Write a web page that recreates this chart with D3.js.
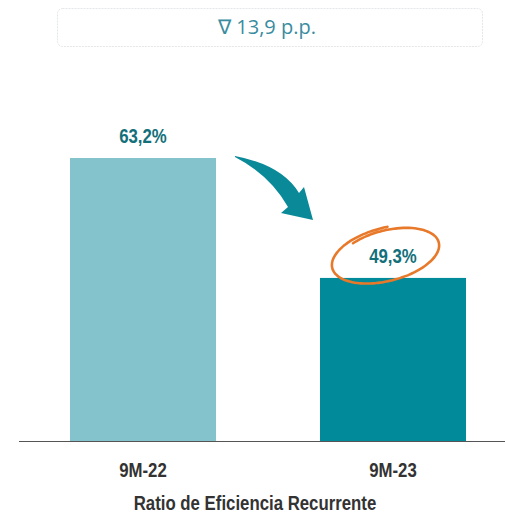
<!DOCTYPE html>
<html>
<head>
<meta charset="utf-8">
<script src="https://cdn.jsdelivr.net/npm/d3@7"></script>
<style>
  body { margin: 0; background: #fff; }
  svg { display: block; }
</style>
</head>
<body>
<div id="chart"></div>
<script>
const categories = ['9M-22', '9M-23'];
const values = [63.2, 49.3];
const valueLabels = ['63,2%', '49,3%'];
const barColors = ['#84c3cb', '#008a9a'];
const deltaLabel = '\u2207 13,9 p.p.';
const axisTitle = 'Ratio de Eficiencia Recurrente';

const W = 505, H = 513;
const narrow = '"Liberation Sans", Arial, sans-serif';
const squeeze = 0.8; // fake the condensed face

const svg = d3.select('#chart').append('svg')
    .attr('width', W)
    .attr('height', H);

const x = d3.scaleBand()
    .domain(categories)
    .range([19, 517])
    .paddingInner(0.416)
    .paddingOuter(0.204);

// baseline is not zero in the original
const y = d3.scaleLinear()
    .domain([30.4, 63.2])
    .range([441, 158]);

function narrowText(sel, tx, ty) {
    return sel.append('text')
        .attr('transform', `translate(${tx},${ty}) scale(${squeeze},1)`)
        .attr('text-anchor', 'middle')
        .style('font-family', narrow)
        .style('font-weight', 'bold')
        .style('font-size', '21px');
}

// top box with the change
svg.append('rect')
    .attr('x', 57.5)
    .attr('y', 8.5)
    .attr('width', 425)
    .attr('height', 38)
    .attr('rx', 5)
    .attr('fill', '#fff')
    .attr('stroke', '#e4e6e8')
    .attr('stroke-dasharray', '2,1');

svg.append('text')
    .attr('x', 267)
    .attr('y', 34)
    .attr('text-anchor', 'middle')
    .attr('fill', '#3a8ca0')
    .style('font-family', '"Open Sans", sans-serif')
    .style('font-size', '20px')
    .text(deltaLabel);

// bars
svg.selectAll('.bar')
    .data(values)
    .enter()
    .append('rect')
    .attr('class', 'bar')
    .attr('x', (d, i) => x(categories[i]))
    .attr('y', d => y(d))
    .attr('width', x.bandwidth())
    .attr('height', d => y.range()[0] - y(d))
    .attr('fill', (d, i) => barColors[i]);

// value labels
values.forEach((v, i) => {
    narrowText(svg, x(categories[i]) + x.bandwidth() / 2, y(v) - 15)
        .attr('fill', '#13707a')
        .text(valueLabels[i]);
});

// axis line + category labels
const xAxis = svg.append('g')
    .attr('transform', `translate(0,${y.range()[0]})`)
    .call(d3.axisBottom(x).tickSize(0));
xAxis.select('.domain').remove();
xAxis.append('line')
    .attr('x1', 19).attr('x2', W)
    .attr('y1', 0.5).attr('y2', 0.5)
    .attr('stroke', '#555');
// tick x is on the <g>, so the squeeze only narrows the glyphs
xAxis.selectAll('.tick text')
    .attr('y', null)
    .attr('dy', null)
    .attr('transform', `translate(0,36) scale(${squeeze},1)`)
    .attr('fill', '#333')
    .style('font-family', narrow)
    .style('font-weight', 'bold')
    .style('font-size', '21px');

narrowText(svg, 255, 510)
    .attr('fill', '#333')
    .text(axisTitle);

// curved arrow between bars
const ax = x(categories[0]) + x.bandwidth();
const ay = y(values[0]);
const arrow = d3.path();
arrow.moveTo(ax + 19, ay - 2);
arrow.quadraticCurveTo(ax + 66, ay + 7, ax + 83, ay + 35);
arrow.lineTo(ax + 88, ay + 29);
arrow.lineTo(ax + 97, ay + 62);
arrow.lineTo(ax + 65, ay + 55);
arrow.lineTo(ax + 72, ay + 49);
arrow.quadraticCurveTo(ax + 54, ay + 17, ax + 19, ay - 1);
arrow.closePath();
svg.append('path')
    .attr('d', arrow.toString())
    .attr('fill', '#0a8a98');

// hand-drawn ellipse around the second label
const cx = x(categories[1]) + x.bandwidth() / 2 - 6;
const cy = y(values[1]) - 23;
const ringPts = d3.range(0, 1.13, 0.01).map(t => {
    const a = -2.2 + t * Math.PI * 2;
    const grow = 0.93 + t * 0.11;
    return [Math.cos(a) * 55 * grow, Math.sin(a) * 26 * grow];
});
svg.append('path')
    .attr('transform', `translate(${cx},${cy}) rotate(-14)`)
    .attr('d', d3.line().curve(d3.curveBasis)(ringPts))
    .attr('fill', 'none')
    .attr('stroke', '#e8792a')
    .attr('stroke-width', 2.6)
    .attr('stroke-linecap', 'round');
</script>
</body>
</html>
